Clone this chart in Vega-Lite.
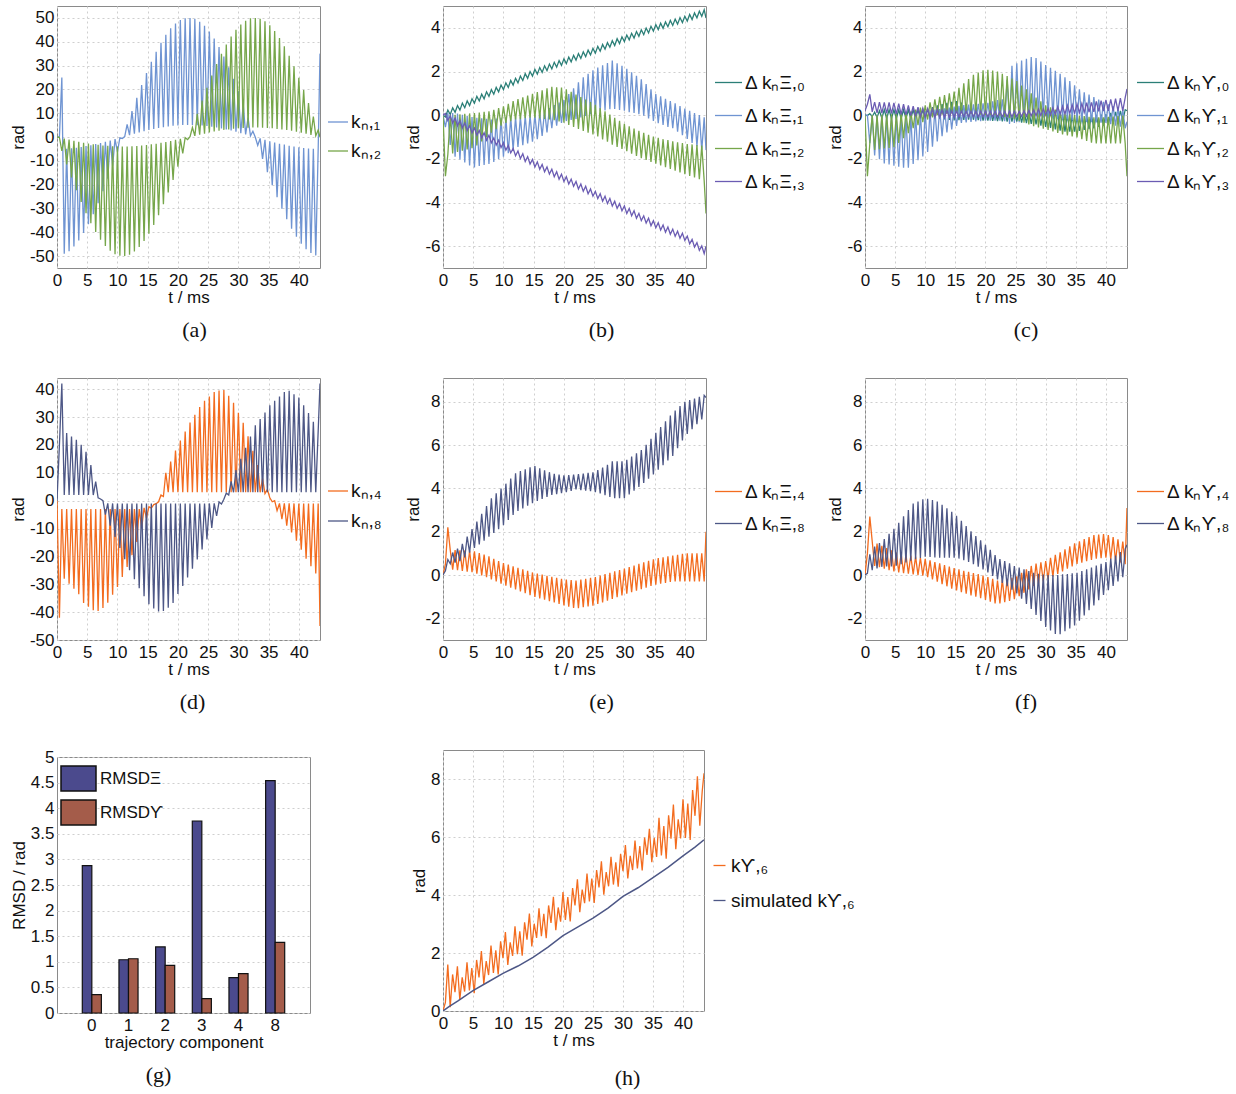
{
"$schema": "https://vega.github.io/schema/vega-lite/v6.json",
"padding": {"left": 8, "top": 5, "right": 5, "bottom": 5},
"background": "white",
"datasets": {
"M": [
{"t":0,"a":0,"b":0,"c":0,"d":0,"e":0,"f":0,"g":0,"h":0,"i":0,"j":0.2,"k":0,"l":0,"m":0,"n":0,"o":0,"p":0,"q":0},
{"t":0.4,"a":0,"b":-0.2,"c":-0.08,"d":-0.55,"e":-2.8,"f":0.08,"g":-0.02,"h":0,"i":-2.8,"j":0.5,"k":-42,"l":20,"m":0.5,"n":0.2,"o":1,"p":0.08,"q":0.3},
{"t":0.8,"a":25,"b":-5.8,"c":0.23,"d":0.1,"e":-1.8,"f":-0.25,"g":0.07,"h":-1.28,"i":-1.3,"j":0.95,"k":-3,"l":42,"m":2.2,"n":0.72,"o":2.7,"p":0.96,"q":1.6},
{"t":1.2,"a":-49,"b":-0.7,"c":0.03,"d":-1.36,"e":0,"f":-0.03,"g":-0.06,"h":0,"i":0,"j":0.15,"k":-28,"l":2,"m":1.15,"n":0.52,"o":1.55,"p":0.22,"q":0.13},
{"t":1.6,"a":-4.9,"b":-11.5,"c":0.34,"d":0.1,"e":-1.75,"f":-0.36,"g":0.14,"h":-1.84,"i":-1.59,"j":0.6,"k":-3,"l":24.3,"m":0.25,"n":1.04,"o":0.42,"p":1.32,"q":1.26},
{"t":2,"a":-48,"b":-1.1,"c":0.13,"d":-1.9,"e":0.02,"f":-0.14,"g":-0.1,"h":0,"i":0.01,"j":0.1,"k":-29.8,"l":2,"m":1.15,"n":0.57,"o":1.45,"p":0.3,"q":0.65},
{"t":2.4,"a":-4.7,"b":-17,"c":0.44,"d":0.07,"e":-1.69,"f":-0.48,"g":0.2,"h":-2.02,"i":-1.56,"j":0.6,"k":-3,"l":23,"m":0.22,"n":1.22,"o":0.36,"p":1.48,"q":1.54},
{"t":2.8,"a":-46,"b":-1.6,"c":0.23,"d":-2.03,"e":0.04,"f":-0.25,"g":-0.14,"h":0,"i":0.02,"j":0.09,"k":-31.6,"l":2,"m":1.14,"n":0.64,"o":1.35,"p":0.38,"q":0.39},
{"t":3.2,"a":-4.5,"b":-22.3,"c":0.55,"d":0.02,"e":-1.63,"f":-0.59,"g":0.25,"h":-2.21,"i":-1.53,"j":0.59,"k":-3,"l":21.8,"m":0.19,"n":1.44,"o":0.29,"p":1.66,"q":1.16},
{"t":3.6,"a":-43.4,"b":-2,"c":0.34,"d":-2.17,"e":0.06,"f":-0.36,"g":-0.15,"h":-0.02,"i":0.03,"j":0.08,"k":-33.6,"l":2,"m":1.13,"n":0.81,"o":1.24,"p":0.4,"q":0.67},
{"t":4,"a":-4.2,"b":-27.3,"c":0.65,"d":-0.03,"e":-1.57,"f":-0.7,"g":0.25,"h":-2.26,"i":-1.5,"j":0.58,"k":-3,"l":20,"m":0.16,"n":1.78,"o":0.23,"p":1.9,"q":1.68},
{"t":4.4,"a":-40.3,"b":-2.4,"c":0.44,"d":-2.3,"e":0.08,"f":-0.48,"g":-0.15,"h":-0.03,"i":0.04,"j":0.07,"k":-36.7,"l":2,"m":1.12,"n":1.03,"o":1.14,"p":0.4,"q":0.71},
{"t":4.8,"a":-3.8,"b":-32,"c":0.75,"d":-0.09,"e":-1.51,"f":-0.81,"g":0.25,"h":-2.31,"i":-1.47,"j":0.56,"k":-3,"l":17.5,"m":0.13,"n":2.12,"o":0.17,"p":2.14,"q":1.48},
{"t":5.2,"a":-36.6,"b":-2.7,"c":0.55,"d":-2.39,"e":0.1,"f":-0.59,"g":-0.15,"h":-0.04,"i":0.05,"j":0.05,"k":-38.1,"l":2,"m":1.1,"n":1.25,"o":1.04,"p":0.43,"q":0.61},
{"t":5.6,"a":-3.5,"b":-36.2,"c":0.86,"d":-0.12,"e":-1.39,"f":-0.92,"g":0.25,"h":-2.36,"i":-1.27,"j":0.53,"k":-3,"l":12.8,"m":0.06,"n":2.47,"o":0.12,"p":2.41,"q":1.76},
{"t":6,"a":-32.4,"b":-3,"c":0.65,"d":-2.33,"e":0.12,"f":-0.7,"g":-0.15,"h":-0.05,"i":0.1,"j":0.03,"k":-39.3,"l":2,"m":1.02,"n":1.41,"o":0.99,"p":0.5,"q":1.16},
{"t":6.4,"a":-3,"b":-39.9,"c":0.96,"d":-0.14,"e":-1.2,"f":-1.04,"g":0.25,"h":-2.41,"i":-1.05,"j":0.5,"k":-3,"l":6.8,"m":-0.02,"n":2.83,"o":0.09,"p":2.71,"q":2.07},
{"t":6.8,"a":-27.8,"b":-3.3,"c":0.75,"d":-2.28,"e":0.15,"f":-0.81,"g":-0.15,"h":-0.06,"i":0.13,"j":0.01,"k":-39.6,"l":1,"m":0.94,"n":1.59,"o":0.95,"p":0.58,"q":0.93},
{"t":7.2,"a":-2.5,"b":-43.1,"c":1.07,"d":-0.17,"e":-1.02,"f":-1.15,"g":0.25,"h":-2.41,"i":-0.82,"j":0.45,"k":-3,"l":0.6,"m":-0.1,"n":3.19,"o":0.06,"p":3,"q":1.72},
{"t":7.6,"a":-22.8,"b":-3.6,"c":0.86,"d":-2.23,"e":0.18,"f":-0.92,"g":-0.15,"h":0,"i":0.17,"j":-0.02,"k":-38.5,"l":0,"m":0.86,"n":1.77,"o":0.9,"p":0.66,"q":1.24},
{"t":8,"a":-2,"b":-45.8,"c":1.17,"d":-0.2,"e":-0.8,"f":-1.26,"g":0.25,"h":-2.23,"i":-0.6,"j":0.41,"k":-3,"l":-5,"m":-0.2,"n":3.55,"o":0.03,"p":3.3,"q":2.26},
{"t":8.4,"a":-17.5,"b":-3.7,"c":0.96,"d":-2.14,"e":0.24,"f":-1.04,"g":-0.15,"h":0.07,"i":0.25,"j":-0.05,"k":-36.6,"l":-1,"m":0.75,"n":1.94,"o":0.85,"p":0.73,"q":1.31},
{"t":8.8,"a":-1.5,"b":-47.8,"c":1.27,"d":-0.16,"e":-0.64,"f":-1.37,"g":0.25,"h":-2.06,"i":-0.46,"j":0.37,"k":-3,"l":-9,"m":-0.3,"n":3.77,"o":0,"p":3.4,"q":2.09},
{"t":9.2,"a":-12,"b":-3.9,"c":1.07,"d":-2.02,"e":0.32,"f":-1.15,"g":-0.15,"h":0.13,"i":0.35,"j":-0.07,"k":-33.8,"l":-1,"m":0.65,"n":2.12,"o":0.8,"p":0.79,"q":1.26},
{"t":9.6,"a":-0.9,"b":-49.2,"c":1.38,"d":-0.12,"e":-0.48,"f":-1.48,"g":0.25,"h":-1.89,"i":-0.32,"j":0.32,"k":-3,"l":-13,"m":-0.4,"n":3.99,"o":-0.03,"p":3.5,"q":2.4},
{"t":10,"a":-6.3,"b":-4,"c":1.17,"d":-1.9,"e":0.4,"f":-1.26,"g":-0.15,"h":0.2,"i":0.45,"j":-0.1,"k":-31,"l":-1,"m":0.55,"n":2.3,"o":0.75,"p":0.85,"q":1.82},
{"t":10.4,"a":-0.3,"b":-49.9,"c":1.48,"d":-0.1,"e":-0.36,"f":-1.6,"g":0.29,"h":-1.68,"i":-0.2,"j":0.3,"k":-3,"l":-17,"m":-0.49,"n":4.22,"o":-0.1,"p":3.52,"q":2.72},
{"t":10.8,"a":-0.6,"b":-4,"c":1.27,"d":-1.74,"e":0.52,"f":-1.39,"g":-0.15,"h":0.22,"i":0.59,"j":-0.1,"k":-27.4,"l":-1,"m":0.48,"n":2.54,"o":0.68,"p":0.83,"q":1.59},
{"t":11.2,"a":0.2,"b":-50,"c":1.59,"d":-0.1,"e":-0.28,"f":-1.73,"g":0.37,"h":-1.44,"i":-0.1,"j":0.28,"k":-3,"l":-21,"m":-0.58,"n":4.46,"o":-0.2,"p":3.46,"q":2.37},
{"t":11.6,"a":5.3,"b":-4,"c":1.38,"d":-1.58,"e":0.64,"f":-1.52,"g":-0.15,"h":0.26,"i":0.73,"j":-0.1,"k":-23.8,"l":-1,"m":0.4,"n":2.78,"o":0.6,"p":0.81,"q":1.9},
{"t":12,"a":0.8,"b":-49.4,"c":1.69,"d":-0.1,"e":-0.2,"f":-1.86,"g":0.45,"h":-1.2,"i":0,"j":0.26,"k":-3,"l":-25,"m":-0.67,"n":4.7,"o":-0.31,"p":3.4,"q":2.92},
{"t":12.4,"a":10.9,"b":-3.9,"c":1.48,"d":-1.46,"e":0.74,"f":-1.64,"g":-0.16,"h":0.28,"i":0.84,"j":-0.1,"k":-19.6,"l":-1,"m":0.33,"n":2.96,"o":0.54,"p":0.8,"q":1.96},
{"t":12.8,"a":1.4,"b":-48.1,"c":1.79,"d":-0.08,"e":-0.18,"f":-1.99,"g":0.51,"h":-0.96,"i":0.02,"j":0.24,"k":-3,"l":-28.2,"m":-0.76,"n":4.8,"o":-0.42,"p":3.24,"q":2.75},
{"t":13.2,"a":16.5,"b":-3.8,"c":1.59,"d":-1.38,"e":0.82,"f":-1.77,"g":-0.19,"h":0.31,"i":0.92,"j":-0.1,"k":-14.8,"l":-1,"m":0.26,"n":3.08,"o":0.46,"p":0.8,"q":1.91},
{"t":13.6,"a":1.9,"b":-46.2,"c":1.9,"d":-0.04,"e":-0.14,"f":-2.12,"g":0.57,"h":-0.79,"i":0.06,"j":0.22,"k":-3,"l":-31.4,"m":-0.84,"n":4.88,"o":-0.52,"p":3.08,"q":3.06},
{"t":14,"a":21.8,"b":-3.6,"c":1.69,"d":-1.3,"e":0.9,"f":-1.9,"g":-0.22,"h":0.35,"i":1,"j":-0.1,"k":-10,"l":-1,"m":0.19,"n":3.2,"o":0.39,"p":0.8,"q":2.46},
{"t":14.4,"a":2.4,"b":-43.7,"c":2,"d":-0.02,"e":-0.12,"f":-2.24,"g":0.61,"h":-0.65,"i":0.08,"j":0.2,"k":-2.6,"l":-34.3,"m":-0.93,"n":4.98,"o":-0.63,"p":2.92,"q":3.36},
{"t":14.8,"a":26.9,"b":-3.4,"c":1.79,"d":-1.22,"e":0.98,"f":-2.03,"g":-0.24,"h":0.39,"i":1.08,"j":-0.1,"k":-6.3,"l":-1,"m":0.12,"n":3.32,"o":0.32,"p":0.8,"q":2.23},
{"t":15.2,"a":2.9,"b":-40.6,"c":2.1,"d":0.02,"e":-0.12,"f":-2.37,"g":0.64,"h":-0.49,"i":0.1,"j":0.18,"k":-2.2,"l":-37.2,"m":-1.01,"n":5.03,"o":-0.71,"p":2.74,"q":3.01},
{"t":15.6,"a":31.6,"b":-3.1,"c":1.88,"d":-1.1,"e":1.06,"f":-2.14,"g":-0.23,"h":0.43,"i":1.25,"j":-0.08,"k":-2.7,"l":-1,"m":0.07,"n":3.42,"o":0.26,"p":0.76,"q":2.52},
{"t":16,"a":3.4,"b":-36.9,"c":2.18,"d":0.1,"e":-0.15,"f":-2.48,"g":0.58,"h":-0.35,"i":0.09,"j":0.18,"k":-1.4,"l":-38.7,"m":-1.08,"n":4.93,"o":-0.79,"p":2.5,"q":3.54},
{"t":16.4,"a":35.8,"b":-2.8,"c":1.96,"d":-0.95,"e":1.14,"f":-2.26,"g":-0.22,"h":0.46,"i":1.46,"j":-0.08,"k":-1.1,"l":-1,"m":0.02,"n":3.51,"o":0.2,"p":0.68,"q":2.58},
{"t":16.8,"a":3.8,"b":-32.8,"c":2.26,"d":0.21,"e":-0.17,"f":-2.59,"g":0.51,"h":-0.33,"i":0.07,"j":0.18,"k":-0.4,"l":-39.8,"m":-1.14,"n":4.84,"o":-0.86,"p":2.26,"q":3.35},
{"t":17.2,"a":39.6,"b":-2.4,"c":2.04,"d":-0.79,"e":1.23,"f":-2.37,"g":-0.2,"h":0.48,"i":1.65,"j":-0.08,"k":2,"l":-1,"m":-0.03,"n":3.61,"o":0.15,"p":0.6,"q":2.51},
{"t":17.6,"a":4.1,"b":-28.2,"c":2.34,"d":0.32,"e":-0.2,"f":-2.7,"g":0.45,"h":-0.31,"i":0.06,"j":0.18,"k":1.5,"l":-39.6,"m":-1.21,"n":4.75,"o":-0.94,"p":2.02,"q":3.64},
{"t":18,"a":42.9,"b":-2.1,"c":2.12,"d":-0.6,"e":1.3,"f":-2.48,"g":-0.21,"h":0.5,"i":1.85,"j":-0.08,"k":10,"l":-1,"m":-0.08,"n":3.7,"o":0.09,"p":0.5,"q":3.04},
{"t":18.4,"a":4.4,"b":-23.3,"c":2.42,"d":0.46,"e":-0.23,"f":-2.82,"g":0.36,"h":-0.29,"i":0.04,"j":0.18,"k":3,"l":-38.4,"m":-1.27,"n":4.68,"o":-1,"p":1.8,"q":3.94},
{"t":18.8,"a":45.6,"b":-1.7,"c":2.2,"d":-0.48,"e":1.28,"f":-2.59,"g":-0.23,"h":0.52,"i":1.95,"j":-0.08,"k":14,"l":-1,"m":-0.13,"n":3.74,"o":0.04,"p":0.38,"q":2.79},
{"t":19.2,"a":4.7,"b":-18,"c":2.5,"d":0.58,"e":-0.29,"f":-2.93,"g":0.3,"h":-0.27,"i":0.02,"j":0.18,"k":3,"l":-36.7,"m":-1.33,"n":4.64,"o":-1.07,"p":1.6,"q":3.57},
{"t":19.6,"a":47.6,"b":-1.2,"c":2.28,"d":-0.36,"e":1.26,"f":-2.7,"g":-0.25,"h":0.54,"i":2.05,"j":-0.08,"k":18,"l":-1,"m":-0.17,"n":3.78,"o":-0.02,"p":0.26,"q":3.08},
{"t":20,"a":4.8,"b":-12.5,"c":2.58,"d":0.7,"e":-0.35,"f":-3.04,"g":0.25,"h":-0.25,"i":0,"j":0.18,"k":3,"l":-33.5,"m":-1.4,"n":4.6,"o":-1.15,"p":1.4,"q":4.1},
{"t":20.4,"a":49.1,"b":-0.8,"c":2.36,"d":-0.27,"e":1.19,"f":-2.82,"g":-0.25,"h":0.57,"i":2.08,"j":-0.08,"k":21.6,"l":-1,"m":-0.21,"n":3.83,"o":-0.09,"p":0.12,"q":3.14},
{"t":20.8,"a":5,"b":-6.9,"c":2.66,"d":0.97,"e":-0.45,"f":-3.15,"g":0.24,"h":-0.25,"i":0,"j":0.18,"k":3,"l":-30.6,"m":-1.46,"n":4.62,"o":-1.23,"p":1.16,"q":3.93},
{"t":21.2,"a":49.9,"b":-0.3,"c":2.44,"d":-0.22,"e":1.07,"f":-2.93,"g":-0.26,"h":0.63,"i":2.04,"j":-0.08,"k":24.8,"l":-1,"m":-0.23,"n":3.89,"o":-0.17,"p":-0.04,"q":3.09},
{"t":21.6,"a":5,"b":-1.1,"c":2.74,"d":1.23,"e":-0.54,"f":-3.26,"g":0.23,"h":-0.25,"i":0,"j":0.18,"k":3,"l":-27.6,"m":-1.52,"n":4.64,"o":-1.31,"p":0.92,"q":4.24},
{"t":22,"a":50,"b":0.1,"c":2.52,"d":-0.17,"e":0.95,"f":-3.04,"g":-0.27,"h":0.69,"i":2,"j":-0.08,"k":28,"l":-1,"m":-0.25,"n":3.95,"o":-0.25,"p":-0.2,"q":3.64},
{"t":22.4,"a":5,"b":4,"c":2.82,"d":1.5,"e":-0.63,"f":-3.38,"g":0.22,"h":-0.25,"i":-0.03,"j":0.18,"k":3,"l":-24.4,"m":-1.53,"n":4.66,"o":-1.31,"p":0.74,"q":4.54},
{"t":22.8,"a":49.6,"b":0.5,"c":2.6,"d":-0.11,"e":0.83,"f":-3.15,"g":-0.28,"h":0.73,"i":1.89,"j":-0.08,"k":30.8,"l":-1,"m":-0.21,"n":3.92,"o":-0.21,"p":-0.36,"q":3.41},
{"t":23.2,"a":4.9,"b":9.7,"c":2.9,"d":1.74,"e":-0.72,"f":-3.49,"g":0.21,"h":-0.28,"i":-0.08,"j":0.18,"k":3,"l":-21.1,"m":-1.49,"n":4.69,"o":-1.25,"p":0.64,"q":4.19},
{"t":23.6,"a":48.4,"b":1,"c":2.68,"d":-0.04,"e":0.72,"f":-3.26,"g":-0.29,"h":1.62,"i":1.79,"j":-0.08,"k":33.6,"l":-1,"m":-0.17,"n":3.9,"o":-0.17,"p":-0.52,"q":3.72},
{"t":24,"a":4.8,"b":15.3,"c":2.98,"d":1.9,"e":-0.8,"f":-3.6,"g":0.21,"h":-0.4,"i":-0.13,"j":0.18,"k":3,"l":-17.5,"m":-1.45,"n":4.72,"o":-1.19,"p":0.54,"q":4.74},
{"t":24.4,"a":46.7,"b":1.4,"c":2.76,"d":0.04,"e":0.6,"f":-3.38,"g":-0.29,"h":2.26,"i":1.68,"j":-0.08,"k":35.8,"l":-1,"m":-0.13,"n":3.87,"o":-0.13,"p":-0.68,"q":3.78},
{"t":24.8,"a":4.6,"b":20.7,"c":3.06,"d":2.06,"e":-0.88,"f":-3.71,"g":0.2,"h":-0.36,"i":-0.19,"j":0.18,"k":3,"l":-13.9,"m":-1.41,"n":4.74,"o":-1.11,"p":0.42,"q":4.57},
{"t":25.2,"a":44.3,"b":1.9,"c":2.84,"d":0.11,"e":0.47,"f":-3.49,"g":-0.3,"h":2.38,"i":1.56,"j":-0.07,"k":37.4,"l":-1,"m":-0.09,"n":3.83,"o":-0.06,"p":-0.85,"q":3.73},
{"t":25.6,"a":4.3,"b":25.8,"c":3.15,"d":2.18,"e":-0.98,"f":-3.82,"g":0.2,"h":-0.32,"i":-0.26,"j":0.18,"k":3,"l":-9.8,"m":-1.34,"n":4.85,"o":-0.98,"p":0.35,"q":4.86},
{"t":26,"a":41.3,"b":2.3,"c":2.93,"d":0.17,"e":0.32,"f":-3.6,"g":-0.34,"h":2.5,"i":1.36,"j":-0.06,"k":39,"l":-1,"m":-0.02,"n":3.77,"o":0.1,"p":-1.09,"q":4.26},
{"t":26.4,"a":4,"b":30.6,"c":3.24,"d":2.29,"e":-1.11,"f":-3.94,"g":0.2,"h":-0.26,"i":-0.34,"j":0.21,"k":3,"l":-5.5,"m":-1.26,"n":4.96,"o":-0.82,"p":0.27,"q":5.16},
{"t":26.8,"a":37.8,"b":2.6,"c":3.02,"d":0.22,"e":0.18,"f":-3.71,"g":-0.36,"h":2.58,"i":1.18,"j":-0.05,"k":39.5,"l":-0.5,"m":0.04,"n":3.69,"o":0.26,"p":-1.33,"q":4.01},
{"t":27.2,"a":3.6,"b":34.9,"c":3.32,"d":2.39,"e":-1.22,"f":-4.05,"g":0.2,"h":-0.18,"i":-0.42,"j":0.23,"k":3,"l":-1.2,"m":-1.18,"n":5.09,"o":-0.66,"p":0.19,"q":4.79},
{"t":27.6,"a":33.8,"b":3,"c":3.11,"d":0.27,"e":0.03,"f":-3.82,"g":-0.4,"h":2.66,"i":1,"j":-0.04,"k":39.7,"l":0.5,"m":0.1,"n":3.61,"o":0.42,"p":-1.57,"q":4.3},
{"t":28,"a":3.2,"b":38.8,"c":3.41,"d":2.5,"e":-1.35,"f":-4.16,"g":0.2,"h":-0.1,"i":-0.5,"j":0.25,"k":3,"l":2.7,"m":-1.1,"n":5.25,"o":-0.5,"p":0.1,"q":5.32},
{"t":28.4,"a":29.3,"b":3.2,"c":3.19,"d":0.28,"e":-0.12,"f":-3.94,"g":-0.42,"h":2.62,"i":0.81,"j":-0.02,"k":37.6,"l":2,"m":0.17,"n":3.55,"o":0.53,"p":-1.84,"q":4.36},
{"t":28.8,"a":2.7,"b":42.2,"c":3.5,"d":2.38,"e":-1.45,"f":-4.27,"g":0.2,"h":-0.1,"i":-0.56,"j":0.28,"k":3,"l":6.9,"m":-1.02,"n":5.25,"o":-0.4,"p":0.06,"q":5.13},
{"t":29.2,"a":24.4,"b":3.5,"c":3.28,"d":0.24,"e":-0.26,"f":-4.05,"g":-0.48,"h":2.46,"i":0.63,"j":-0.02,"k":35.1,"l":3,"m":0.23,"n":3.55,"o":0.59,"p":-2.12,"q":4.29},
{"t":29.6,"a":2.2,"b":45,"c":3.59,"d":2.26,"e":-1.55,"f":-4.38,"g":0.2,"h":-0.1,"i":-0.62,"j":0.29,"k":3,"l":11,"m":-0.94,"n":5.25,"o":-0.3,"p":0.02,"q":5.42},
{"t":30,"a":19.2,"b":3.7,"c":3.37,"d":0.2,"e":-0.4,"f":-4.16,"g":-0.54,"h":2.3,"i":0.45,"j":0,"k":31.5,"l":3,"m":0.3,"n":3.55,"o":0.65,"p":-2.4,"q":4.82},
{"t":30.4,"a":1.6,"b":47.2,"c":3.67,"d":2.12,"e":-1.65,"f":-4.5,"g":0.2,"h":-0.11,"i":-0.68,"j":0.31,"k":3,"l":15,"m":-0.86,"n":5.32,"o":-0.19,"p":0,"q":5.72},
{"t":30.8,"a":13.7,"b":3.8,"c":3.45,"d":0.14,"e":-0.51,"f":-4.27,"g":-0.58,"h":2.17,"i":0.36,"j":0.01,"k":27.9,"l":3,"m":0.37,"n":3.72,"o":0.79,"p":-2.56,"q":4.57},
{"t":31.2,"a":1.1,"b":48.8,"c":3.75,"d":1.96,"e":-1.76,"f":-4.61,"g":0.18,"h":-0.14,"i":-0.75,"j":0.34,"k":3,"l":19,"m":-0.79,"n":5.47,"o":-0.07,"p":0,"q":5.35},
{"t":31.6,"a":8.1,"b":3.9,"c":3.53,"d":0.1,"e":-0.61,"f":-4.38,"g":-0.65,"h":2.03,"i":0.26,"j":0.03,"k":23.1,"l":3,"m":0.44,"n":3.9,"o":0.93,"p":-2.72,"q":4.86},
{"t":32,"a":0.5,"b":49.8,"c":3.83,"d":1.8,"e":-1.87,"f":-4.72,"g":0.12,"h":-0.17,"i":-0.81,"j":0.38,"k":3,"l":23,"m":-0.72,"n":5.62,"o":0.05,"p":0,"q":5.88},
{"t":32.4,"a":2.4,"b":4,"c":3.61,"d":0.04,"e":-0.72,"f":-4.5,"g":-0.71,"h":1.9,"i":0.17,"j":0.05,"k":17.9,"l":3,"m":0.52,"n":4.07,"o":1.05,"p":-2.73,"q":4.92},
{"t":32.8,"a":-0.1,"b":50,"c":3.91,"d":1.64,"e":-1.97,"f":-4.83,"g":0.06,"h":-0.19,"i":-0.88,"j":0.41,"k":3,"l":27,"m":-0.65,"n":5.77,"o":0.17,"p":0.03,"q":5.69},
{"t":33.2,"a":-3.5,"b":4,"c":3.69,"d":-0.03,"e":-0.81,"f":-4.61,"g":-0.76,"h":1.74,"i":0.09,"j":0.06,"k":12.8,"l":3,"m":0.59,"n":4.25,"o":1.19,"p":-2.6,"q":4.85},
{"t":33.6,"a":-0.6,"b":49.6,"c":3.99,"d":1.43,"e":-2.05,"f":-4.94,"g":0.02,"h":-0.21,"i":-0.93,"j":0.45,"k":3,"l":29.3,"m":-0.58,"n":6.01,"o":0.29,"p":0.05,"q":5.98},
{"t":34,"a":-9.2,"b":3.9,"c":3.77,"d":-0.15,"e":-0.9,"f":-4.72,"g":-0.76,"h":1.56,"i":0.05,"j":0.08,"k":8,"l":3,"m":0.66,"n":4.45,"o":1.33,"p":-2.47,"q":5.38},
{"t":34.4,"a":-1.2,"b":48.6,"c":4.07,"d":1.19,"e":-2.14,"f":-5.06,"g":-0.02,"h":-0.24,"i":-0.97,"j":0.47,"k":2.5,"l":31.6,"m":-0.5,"n":6.29,"o":0.4,"p":0.08,"q":6.28},
{"t":34.8,"a":-14.8,"b":3.8,"c":3.85,"d":-0.27,"e":-0.98,"f":-4.83,"g":-0.76,"h":1.37,"i":0.01,"j":0.09,"k":4,"l":3,"m":0.73,"n":4.65,"o":1.47,"p":-2.33,"q":5.13},
{"t":35.2,"a":-1.8,"b":46.9,"c":4.15,"d":0.97,"e":-2.22,"f":-5.16,"g":-0.04,"h":-0.26,"i":-1.02,"j":0.5,"k":1,"l":34.2,"m":-0.44,"n":6.57,"o":0.51,"p":0.11,"q":5.97},
{"t":35.6,"a":-20.2,"b":3.7,"c":3.92,"d":-0.37,"e":-1.04,"f":-4.93,"g":-0.72,"h":1.18,"i":-0.02,"j":0.11,"k":-0.4,"l":3,"m":0.78,"n":4.86,"o":1.56,"p":-2.11,"q":5.31},
{"t":36,"a":-2.3,"b":44.5,"c":4.21,"d":0.86,"e":-2.3,"f":-5.26,"g":-0.04,"h":-0.3,"i":-1.1,"j":0.53,"k":0,"l":35.8,"m":-0.4,"n":6.83,"o":0.57,"p":0.19,"q":6.66},
{"t":36.4,"a":-25.3,"b":3.4,"c":3.98,"d":-0.45,"e":-1.1,"f":-5.03,"g":-0.67,"h":1.05,"i":-0.04,"j":0.13,"k":-3.6,"l":3,"m":0.82,"n":5.07,"o":1.66,"p":-1.87,"q":5.36},
{"t":36.8,"a":-2.8,"b":41.6,"c":4.27,"d":0.75,"e":-2.38,"f":-5.36,"g":-0.02,"h":-0.31,"i":-1.18,"j":0.57,"k":-1,"l":37.4,"m":-0.36,"n":7.1,"o":0.64,"p":0.27,"q":6.38},
{"t":37.2,"a":-30.1,"b":3.2,"c":4.05,"d":-0.54,"e":-1.14,"f":-5.12,"g":-0.64,"h":0.94,"i":-0.08,"j":0.14,"k":-6.6,"l":3,"m":0.86,"n":5.29,"o":1.75,"p":-1.63,"q":5.25},
{"t":37.6,"a":-3.2,"b":38.1,"c":4.34,"d":0.65,"e":-2.46,"f":-5.45,"g":0,"h":-0.32,"i":-1.26,"j":0.59,"k":-1,"l":39,"m":-0.32,"n":7.37,"o":0.7,"p":0.35,"q":6.75},
{"t":38,"a":-34.5,"b":2.9,"c":4.11,"d":-0.6,"e":-1.2,"f":-5.22,"g":-0.6,"h":0.83,"i":-0.1,"j":0.15,"k":-9,"l":3,"m":0.9,"n":5.5,"o":1.85,"p":-1.4,"q":5.94},
{"t":38.4,"a":-3.7,"b":34.1,"c":4.4,"d":0.54,"e":-2.54,"f":-5.55,"g":0.01,"h":-0.33,"i":-1.3,"j":0.63,"k":-1,"l":39.4,"m":-0.3,"n":7.6,"o":0.76,"p":0.44,"q":7.12},
{"t":38.8,"a":-38.5,"b":2.6,"c":4.17,"d":-0.76,"e":-1.24,"f":-5.32,"g":-0.54,"h":0.72,"i":-0.1,"j":0.17,"k":-11.4,"l":3,"m":0.94,"n":5.86,"o":1.87,"p":-1.16,"q":5.58},
{"t":39.2,"a":-4,"b":29.7,"c":4.47,"d":0.42,"e":-2.62,"f":-5.64,"g":0.03,"h":-0.34,"i":-1.3,"j":0.66,"k":-1,"l":38.2,"m":-0.3,"n":7.8,"o":0.78,"p":0.52,"q":6.61},
{"t":39.6,"a":-41.9,"b":2.2,"c":4.24,"d":-0.92,"e":-1.28,"f":-5.41,"g":-0.48,"h":0.61,"i":-0.1,"j":0.19,"k":-14.4,"l":3,"m":0.98,"n":6.22,"o":1.89,"p":-0.92,"q":5.95},
{"t":40,"a":-4.3,"b":24.9,"c":4.53,"d":0.3,"e":-2.7,"f":-5.74,"g":0.05,"h":-0.35,"i":-1.3,"j":0.7,"k":-1,"l":37,"m":-0.3,"n":8,"o":0.8,"p":0.6,"q":7.3},
{"t":40.4,"a":-44.8,"b":1.8,"c":4.31,"d":-1.09,"e":-1.32,"f":-5.54,"g":-0.42,"h":0.5,"i":-0.08,"j":0.2,"k":-17.6,"l":3,"m":1,"n":6.52,"o":1.85,"p":-0.7,"q":5.97},
{"t":40.8,"a":-4.6,"b":19.7,"c":4.61,"d":0.2,"e":-2.78,"f":-5.89,"g":0.1,"h":-0.41,"i":-1.3,"j":0.72,"k":-1,"l":34.2,"m":-0.3,"n":8.08,"o":0.72,"p":0.76,"q":7.15},
{"t":41.2,"a":-47.1,"b":1.4,"c":4.38,"d":-1.27,"e":-1.34,"f":-5.69,"g":-0.37,"h":0.42,"i":-0.06,"j":0.2,"k":-20.8,"l":3,"m":1,"n":6.74,"o":1.75,"p":-0.5,"q":5.9},
{"t":41.6,"a":-4.8,"b":14.3,"c":4.68,"d":0.1,"e":-2.85,"f":-6.04,"g":0.15,"h":-0.48,"i":-1.3,"j":0.76,"k":-1,"l":31.4,"m":-0.3,"n":8.15,"o":0.65,"p":0.9,"q":7.62},
{"t":42,"a":-48.7,"b":0.9,"c":4.46,"d":-1.43,"e":-1.37,"f":-5.84,"g":-0.32,"h":0.33,"i":-0.04,"j":0.2,"k":-23.5,"l":3,"m":1,"n":6.97,"o":1.65,"p":-0.3,"q":6.73},
{"t":42.4,"a":-4.9,"b":8.6,"c":4.76,"d":0,"e":-2.93,"f":-6.19,"g":0.2,"h":-0.53,"i":-1.3,"j":0.78,"k":-1,"l":28.3,"m":-0.3,"n":8.23,"o":0.58,"p":1.06,"q":8.09},
{"t":42.8,"a":-49.7,"b":0.5,"c":4.53,"d":-1.61,"e":-1.39,"f":-5.99,"g":-0.27,"h":0.25,"i":-0.02,"j":0.2,"k":-26.1,"l":3,"m":1,"n":7.19,"o":1.55,"p":-0.1,"q":6.39},
{"t":43.2,"a":-5,"b":2.9,"c":4.83,"d":-0.1,"e":-3,"f":-6.34,"g":0.25,"h":-0.6,"i":-1.3,"j":0.8,"k":-1,"l":25,"m":-0.3,"n":8.3,"o":0.5,"p":1.2,"q":7.57},
{"t":43.5,"a":35,"b":0,"c":4.45,"d":-1.6,"e":-4.5,"f":-6,"g":0.2,"h":-0.3,"i":-2.8,"j":1.2,"k":-45,"l":42,"m":2,"n":8.2,"o":3.1,"p":1.4,"q":8.2}
],
"S": [
{"t":0,"r":0},{"t":1,"r":0.15},{"t":2.5,"r":0.35},{"t":5,"r":0.7},{"t":7.5,"r":1.0},{"t":10,"r":1.3},{"t":12.5,"r":1.55},{"t":15,"r":1.85},{"t":17.5,"r":2.2},{"t":20,"r":2.6},{"t":22.5,"r":2.9},{"t":25,"r":3.2},{"t":27.5,"r":3.55},{"t":30,"r":3.95},{"t":32.5,"r":4.25},{"t":35,"r":4.6},{"t":37.5,"r":4.95},{"t":40,"r":5.35},{"t":42,"r":5.65},{"t":43.5,"r":5.9}
],
"G": [
{"c":"0","g":"Ξ","v":2.88},{"c":"0","g":"ϒ","v":0.36},{"c":"1","g":"Ξ","v":1.04},{"c":"1","g":"ϒ","v":1.06},{"c":"2","g":"Ξ","v":1.29},{"c":"2","g":"ϒ","v":0.93},{"c":"3","g":"Ξ","v":3.75},{"c":"3","g":"ϒ","v":0.28},{"c":"4","g":"Ξ","v":0.69},{"c":"4","g":"ϒ","v":0.77},{"c":"8","g":"Ξ","v":4.54},{"c":"8","g":"ϒ","v":1.38}
]
},
"columns": 5,
"align": "each",
"bounds": "flush",
"spacing": {"row": 110, "column": 0},
"resolve": {"scale": {"color": "independent"}},
"concat": [
{
 "width": 263, "height": 262,
 "data": {"name": "M"},
 "transform": [{"fold": ["a","b"], "as": ["s","v"]}],
 "mark": {"type": "line", "strokeWidth": 1.3, "clip": true},
 "encoding": {
  "x": {"field": "t", "type": "quantitative", "scale": {"domain": [0,43.5], "nice": false}, "axis": {"values": [0,5,10,15,20,25,30,35,40], "title": "t / ms"}},
  "y": {"field": "v", "type": "quantitative", "scale": {"domain": [-55,55], "nice": false}, "axis": {"values": [-50,-40,-30,-20,-10,0,10,20,30,40,50], "title": "rad", "labelExpr": "replace(datum.label,'−','-')"}},
  "color": {"field": "s", "type": "nominal", "scale": {"domain": ["a","b"], "range": ["#6f94d2","#76a64a"]}, "legend": {"title": null, "orient": "none", "legendX": 270, "legendY": 105, "symbolSize": 400, "rowPadding": 8, "labelExpr": "datum.label=='a'?'kₙ,₁':'kₙ,₂'"}}
 },
 "title": {"text": "(a)", "dx": 6}
},
{"width": 123, "height": 10, "data": {"values": []}, "mark": "point", "encoding": {}, "view": {"stroke": null}},
{
 "width": 263, "height": 262,
 "data": {"name": "M"},
 "transform": [{"fold": ["c","d","e","f"], "as": ["s","v"]}],
 "mark": {"type": "line", "strokeWidth": 1.3, "clip": true},
 "encoding": {
  "x": {"field": "t", "type": "quantitative", "scale": {"domain": [0,43.5], "nice": false}, "axis": {"values": [0,5,10,15,20,25,30,35,40], "title": "t / ms"}},
  "y": {"field": "v", "type": "quantitative", "scale": {"domain": [-7,5], "nice": false}, "axis": {"values": [-6,-4,-2,0,2,4], "title": "rad", "labelExpr": "replace(datum.label,'−','-')"}},
  "color": {"field": "s", "type": "nominal", "scale": {"domain": ["c","d","e","f"], "range": ["#2b7f77","#6f94d2","#76a64a","#6b5cb3"]}, "legend": {"title": null, "orient": "none", "legendX": 271, "legendY": 62, "symbolSize": 729, "rowPadding": 8, "labelExpr": "datum.label=='c'?'Δ kₙΞ,₀':datum.label=='d'?'Δ kₙΞ,₁':datum.label=='e'?'Δ kₙΞ,₂':'Δ kₙΞ,₃'"}}
 },
 "title": {"text": "(b)", "dx": 27}
},
{"width": 159, "height": 10, "data": {"values": []}, "mark": "point", "encoding": {}, "view": {"stroke": null}},
{
 "width": 262, "height": 262,
 "data": {"name": "M"},
 "transform": [{"fold": ["g","h","i","j"], "as": ["s","v"]}],
 "mark": {"type": "line", "strokeWidth": 1.3, "clip": true},
 "encoding": {
  "x": {"field": "t", "type": "quantitative", "scale": {"domain": [0,43.5], "nice": false}, "axis": {"values": [0,5,10,15,20,25,30,35,40], "title": "t / ms"}},
  "y": {"field": "v", "type": "quantitative", "scale": {"domain": [-7,5], "nice": false}, "axis": {"values": [-6,-4,-2,0,2,4], "title": "rad", "labelExpr": "replace(datum.label,'−','-')"}},
  "color": {"field": "s", "type": "nominal", "scale": {"domain": ["g","h","i","j"], "range": ["#2b7f77","#6f94d2","#76a64a","#6b5cb3"]}, "legend": {"title": null, "orient": "none", "legendX": 271, "legendY": 62, "symbolSize": 729, "rowPadding": 8, "labelExpr": "datum.label=='g'?'Δ kₙϒ,₀':datum.label=='h'?'Δ kₙϒ,₁':datum.label=='i'?'Δ kₙϒ,₂':'Δ kₙϒ,₃'"}}
 },
 "title": {"text": "(c)", "dx": 30}
},
{
 "width": 263, "height": 262,
 "data": {"name": "M"},
 "transform": [{"fold": ["k","l"], "as": ["s","v"]}],
 "mark": {"type": "line", "strokeWidth": 1.3, "clip": true},
 "encoding": {
  "x": {"field": "t", "type": "quantitative", "scale": {"domain": [0,43.5], "nice": false}, "axis": {"values": [0,5,10,15,20,25,30,35,40], "title": "t / ms"}},
  "y": {"field": "v", "type": "quantitative", "scale": {"domain": [-50,44], "nice": false}, "axis": {"values": [-50,-40,-30,-20,-10,0,10,20,30,40], "title": "rad", "labelExpr": "replace(datum.label,'−','-')"}},
  "color": {"field": "s", "type": "nominal", "scale": {"domain": ["k","l"], "range": ["#f36c1f","#4d5786"]}, "legend": {"title": null, "orient": "none", "legendX": 270, "legendY": 102, "symbolSize": 400, "rowPadding": 9, "labelExpr": "datum.label=='k'?'kₙ,₄':'kₙ,₈'"}}
 },
 "title": {"text": "(d)", "dx": 4}
},
{"width": 123, "height": 10, "data": {"values": []}, "mark": "point", "encoding": {}, "view": {"stroke": null}},
{
 "width": 263, "height": 262,
 "data": {"name": "M"},
 "transform": [{"fold": ["m","n"], "as": ["s","v"]}],
 "mark": {"type": "line", "strokeWidth": 1.3, "clip": true},
 "encoding": {
  "x": {"field": "t", "type": "quantitative", "scale": {"domain": [0,43.5], "nice": false}, "axis": {"values": [0,5,10,15,20,25,30,35,40], "title": "t / ms"}},
  "y": {"field": "v", "type": "quantitative", "scale": {"domain": [-3,9.1], "nice": false}, "axis": {"values": [-2,0,2,4,6,8], "title": "rad", "labelExpr": "replace(datum.label,'−','-')"}},
  "color": {"field": "s", "type": "nominal", "scale": {"domain": ["m","n"], "range": ["#f36c1f","#4d5786"]}, "legend": {"title": null, "orient": "none", "legendX": 271, "legendY": 99, "symbolSize": 729, "rowPadding": 7, "labelExpr": "datum.label=='m'?'Δ kₙΞ,₄':'Δ kₙΞ,₈'"}}
 },
 "title": {"text": "(e)", "dx": 27}
},
{"width": 159, "height": 10, "data": {"values": []}, "mark": "point", "encoding": {}, "view": {"stroke": null}},
{
 "width": 262, "height": 262,
 "data": {"name": "M"},
 "transform": [{"fold": ["o","p"], "as": ["s","v"]}],
 "mark": {"type": "line", "strokeWidth": 1.3, "clip": true},
 "encoding": {
  "x": {"field": "t", "type": "quantitative", "scale": {"domain": [0,43.5], "nice": false}, "axis": {"values": [0,5,10,15,20,25,30,35,40], "title": "t / ms"}},
  "y": {"field": "v", "type": "quantitative", "scale": {"domain": [-3,9.1], "nice": false}, "axis": {"values": [-2,0,2,4,6,8], "title": "rad", "labelExpr": "replace(datum.label,'−','-')"}},
  "color": {"field": "s", "type": "nominal", "scale": {"domain": ["o","p"], "range": ["#f36c1f","#4d5786"]}, "legend": {"title": null, "orient": "none", "legendX": 271, "legendY": 99, "symbolSize": 729, "rowPadding": 7, "labelExpr": "datum.label=='o'?'Δ kₙϒ,₄':'Δ kₙϒ,₈'"}}
 },
 "title": {"text": "(f)", "dx": 30}
},
{
 "vconcat": [
  {"width": 10, "height": 1, "data": {"values": []}, "mark": "point", "encoding": {}, "view": {"stroke": null}},
  {
   "width": 253, "height": 256,
   "data": {"name": "G"},
   "mark": {"type": "bar", "stroke": "#111111", "strokeWidth": 1.2},
   "encoding": {
    "x": {"field": "c", "type": "ordinal", "sort": ["0","1","2","3","4","8"], "scale": {"paddingInner": 0.48, "paddingOuter": 0.69}, "axis": {"labelAngle": 0, "title": "trajectory component", "grid": false}},
    "xOffset": {"field": "g", "type": "nominal", "sort": ["Ξ","ϒ"]},
    "y": {"field": "v", "type": "quantitative", "scale": {"domain": [0,5], "nice": false}, "axis": {"values": [0,0.5,1,1.5,2,2.5,3,3.5,4,4.5,5], "format": "~g", "title": "RMSD / rad"}},
    "color": {"field": "g", "type": "nominal", "sort": ["Ξ","ϒ"], "scale": {"domain": ["Ξ","ϒ"], "range": ["#4b4a8d","#a45c4a"]}, "legend": {"title": null, "orient": "top-left", "offset": 3, "symbolType": "M-1,-0.71L1,-0.71L1,0.71L-1,0.71Z", "symbolSize": 1225, "symbolStrokeColor": "#111111", "symbolStrokeWidth": 1.5, "rowPadding": -5, "labelOffset": 3, "labelFontSize": 17, "labelExpr": "'RMSD' + datum.label"}}
   },
   "title": {"text": "(g)", "dx": -25}
  }
 ],
 "spacing": 6,
 "bounds": "flush",
 "resolve": {"scale": {"color": "independent"}}
},
{"width": 123, "height": 10, "data": {"values": []}, "mark": "point", "encoding": {}, "view": {"stroke": null}},
{
 "width": 261, "height": 261,
 "layer": [
  {
   "data": {"name": "M"},
   "transform": [{"fold": ["q"], "as": ["s","v"]}],
   "mark": {"type": "line", "strokeWidth": 1.3, "clip": true},
   "encoding": {
    "x": {"field": "t", "type": "quantitative", "scale": {"domain": [0,43.5], "nice": false}, "axis": {"values": [0,5,10,15,20,25,30,35,40], "title": "t / ms"}},
    "y": {"field": "v", "type": "quantitative", "scale": {"domain": [0,9], "nice": false}, "axis": {"values": [0,2,4,6,8], "title": "rad"}},
    "color": {"field": "s", "type": "nominal", "scale": {"domain": ["q","r"], "range": ["#f36c1f","#4d5786"]}, "legend": {"title": null, "orient": "none", "legendX": 267, "legendY": 106, "symbolSize": 144, "rowPadding": 15, "labelExpr": "datum.label=='q'?'kϒ,₆':'simulated kϒ,₆'"}}
   }
  },
  {
   "data": {"name": "S"},
   "transform": [{"fold": ["r"], "as": ["s","v"]}],
   "mark": {"type": "line", "strokeWidth": 1.5, "clip": true},
   "encoding": {
    "x": {"field": "t", "type": "quantitative", "scale": {"domain": [0,43.5], "nice": false}, "axis": {"values": [0,5,10,15,20,25,30,35,40], "title": "t / ms"}},
    "y": {"field": "v", "type": "quantitative", "scale": {"domain": [0,9], "nice": false}, "axis": {"values": [0,2,4,6,8], "title": "rad"}},
    "color": {"field": "s", "type": "nominal"}
   }
  }
 ],
 "title": {"text": "(h)", "dx": 54, "offset": 20}
}
],
"config": {
 "font": "Liberation Sans",
 "view": {"stroke": "#8a8a8a", "strokeWidth": 1},
 "axis": {"labelFont": "Liberation Sans", "titleFont": "Liberation Sans", "labelFontSize": 17, "titleFontSize": 17, "titleFontWeight": "normal", "labelColor": "#111111", "titleColor": "#111111", "domain": false, "ticks": false, "grid": true, "gridColor": "#cfcfcf", "gridDash": [2,3], "labelFlush": false, "labelOverlap": false, "labelBound": false},
 "axisX": {"labelPadding": 4, "titlePadding": 1},
 "axisY": {"labelPadding": 3, "titlePadding": 2},
 "legend": {"labelFont": "Liberation Sans", "labelFontSize": 19, "labelColor": "#111111", "symbolType": "stroke", "symbolStrokeWidth": 2, "labelOffset": 2, "padding": 0, "labelLimit": 300},
 "title": {"orient": "bottom", "font": "Liberation Serif", "fontSize": 22, "fontWeight": "normal", "color": "#111111", "offset": 15},
 "line": {"strokeWidth": 1.3}
}
}
